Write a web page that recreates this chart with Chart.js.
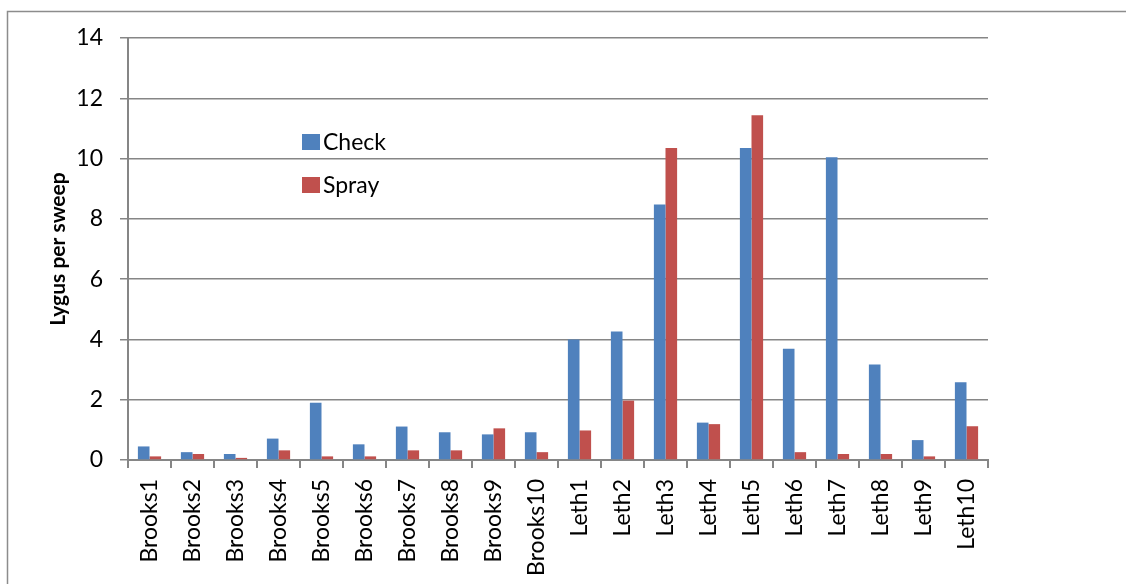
<!DOCTYPE html>
<html>
<head>
<meta charset="utf-8">
<script src="https://cdn.jsdelivr.net/npm/chart.js@4/dist/chart.umd.min.js"></script>
<style>
html,body{margin:0;padding:0;background:#fff;}
#wrap{position:relative;width:1126px;height:584px;}
</style>
</head>
<body>
<div id="wrap"><canvas id="c" width="1126" height="584"></canvas></div>
<script>
const categories = ["Brooks1","Brooks2","Brooks3","Brooks4","Brooks5","Brooks6","Brooks7","Brooks8","Brooks9","Brooks10",
  "Leth1","Leth2","Leth3","Leth4","Leth5","Leth6","Leth7","Leth8","Leth9","Leth10"];
const checkValues = [0.45,0.26,0.2,0.71,1.9,0.52,1.11,0.92,0.85,0.92,
  4.0,4.26,8.48,1.24,10.35,3.69,10.04,3.17,0.66,2.58];
const sprayValues = [0.12,0.2,0.07,0.32,0.12,0.12,0.32,0.32,1.05,0.26,
  0.98,1.97,10.35,1.19,11.44,0.26,0.2,0.2,0.12,1.12];
const yTicks = [0,2,4,6,8,10,12,14];
const seriesNames = ["Check","Spray"];
const seriesColors = ["#4F81BD","#C0504D"];
const yTitle = "Lygus per sweep";

const FONT = "Lato, 'Liberation Sans', sans-serif";
const GRAY = "#868686";

const decor = {
  id: 'decor',
  beforeDraw(chart){
    const ctx = chart.ctx;
    ctx.save();
    ctx.fillStyle = '#fff';
    ctx.fillRect(0,0,chart.width,chart.height);
    ctx.strokeStyle = '#8c8c8c';
    ctx.lineWidth = 1.5;
    ctx.beginPath();
    ctx.moveTo(7.5, chart.height + 5);
    ctx.lineTo(7.5, 11.5);
    ctx.lineTo(chart.width + 5, 11.5);
    ctx.stroke();
    ctx.restore();
  },
  afterDraw(chart){
    const ctx = chart.ctx;
    const ya = chart.scales.y;
    ctx.save();
    ctx.translate(58, (ya.top + ya.bottom)/2);
    ctx.rotate(-Math.PI/2);
    ctx.fillStyle = '#000';
    ctx.font = "bold 21px " + FONT;
    ctx.textAlign = 'center';
    ctx.textBaseline = 'middle';
    ctx.fillText(yTitle, 0, 0);
    ctx.restore();
    ctx.save();
    const lx = 302, ly = [142, 185];
    ctx.font = "23px " + FONT;
    ctx.textBaseline = 'middle';
    ctx.textAlign = 'left';
    chart.data.datasets.forEach((ds, i) => {
      ctx.fillStyle = ds.backgroundColor;
      ctx.fillRect(lx, ly[i] - 8, 18, 16);
      ctx.fillStyle = '#000';
      ctx.fillText(ds.label, lx + 21, ly[i] + 1);
    });
    ctx.restore();
  }
};

new Chart(document.getElementById('c'), {
  type: 'bar',
  data: {
    labels: categories,
    datasets: [
      {label: seriesNames[0], data: checkValues, backgroundColor: seriesColors[0]},
      {label: seriesNames[1], data: sprayValues, backgroundColor: seriesColors[1]}
    ]
  },
  options: {
    responsive: false,
    animation: false,
    devicePixelRatio: 1,
    layout: {padding: {left: 0, top: 38, right: 138, bottom: 0}},
    datasets: {bar: {categoryPercentage: 0.54, barPercentage: 1.0}},
    plugins: {legend: {display: false}, tooltip: {enabled: false}},
    scales: {
      x: {
        grid: {display: true, drawOnChartArea: false, drawTicks: true, tickLength: 8, offset: true, color: GRAY, lineWidth: 2},
        border: {display: true, color: GRAY, width: 2},
        ticks: {color: '#000', font: {family: FONT, size: 23}, maxRotation: 90, minRotation: 90, padding: 11, autoSkip: false},
        afterFit(s){ s.height = 124; }
      },
      y: {
        min: 0, max: 14,
        afterBuildTicks(s){ s.ticks = yTicks.map(v => ({value: v})); },
        grid: {color: GRAY, lineWidth: 1.5, drawTicks: true, tickLength: 8},
        border: {display: true, color: GRAY, width: 2},
        ticks: {color: '#000', font: {family: FONT, size: 23}, padding: 17},
        afterFit(s){ s.width = 128; }
      }
    }
  },
  plugins: [decor]
});
</script>
</body>
</html>
